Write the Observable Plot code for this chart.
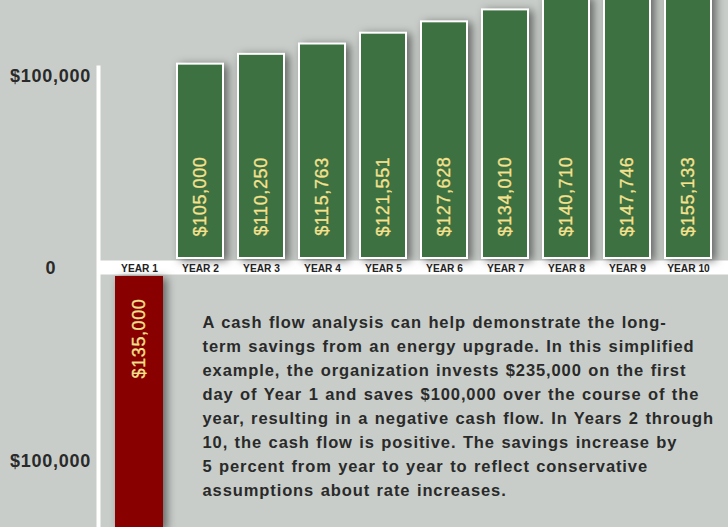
<!DOCTYPE html>
<html>
<head>
<meta charset="utf-8">
<script src="https://cdn.jsdelivr.net/npm/d3@7"></script>
<script src="https://cdn.jsdelivr.net/npm/@observablehq/plot@0.6"></script>
<style>
  html, body { margin: 0; padding: 0; background: #c8cdc9; }
  [aria-label="green bar"], [aria-label="red bar"] {
    filter: drop-shadow(4px 2px 4px rgba(0,0,0,0.5));
  }
  [aria-label="note"] { letter-spacing: 0.9px; word-spacing: 1px; }
  [aria-label="value label"] { letter-spacing: 0.6px; }
  [aria-label="tick label"] { letter-spacing: 0.75px; }
</style>
</head>
<body>
<div id="chart"></div>
<script>
const years = ["Year 1", "Year 2", "Year 3", "Year 4", "Year 5", "Year 6", "Year 7", "Year 8", "Year 9", "Year 10"];
const cashFlow = [-135000, 105000, 110250, 115763, 121551, 127628, 134010, 140710, 147746, 155133];
const yTicks = [-100000, 0, 100000];
const noteLines = [
  "A cash flow analysis can help demonstrate the long-",
  "term savings from an energy upgrade. In this simplified",
  "example, the organization invests $235,000 on the first",
  "day of Year 1 and saves $100,000 over the course of the",
  "year, resulting in a negative cash flow. In Years 2 through",
  "10, the cash flow is positive. The savings increase by",
  "5 percent from year to year to reflect conservative",
  "assumptions about rate increases."
];

const data = years.map((year, i) => ({year, value: cashFlow[i]}));
const gains = data.filter(d => d.value > 0);
const losses = data.filter(d => d.value < 0);
const money = v => "$" + d3.format(",")(Math.abs(v));
const tickFmt = v => v === 0 ? "0" : money(v);

const font = "'Liberation Sans', Arial, Helvetica, sans-serif";

const chart = Plot.plot({
  width: 728,
  height: 527,
  marginTop: 67,
  marginLeft: 98,
  marginRight: 0,
  marginBottom: 0,
  style: {background: "#c8cdc9", fontFamily: font},
  x: {type: "band", domain: years, range: [99.5, 728], padding: 0.22, axis: null},
  y: {domain: [-100000, 100000], range: [454, 80], axis: null},
  marks: [
    Plot.ruleY([0], {stroke: "white", strokeWidth: 14}),
    Plot.frame({anchor: "left", stroke: "white", strokeWidth: 4}),
    Plot.barY(losses, {x: "year", y: "value", fill: "#880000", dy: 9, ariaLabel: () => "red bar"}),
    Plot.barY(gains, {x: "year", y: "value", fill: "#3e7142", stroke: "white", strokeWidth: 2, inset: 1, dy: -8, ariaLabel: () => "green bar"}),
    Plot.text(gains, {x: "year", y: 0, text: d => money(d.value), rotate: -90, dy: -71, fill: "#f6e28e", fontSize: 18, stroke: "#f6e28e", strokeWidth: 0.3, ariaLabel: () => "value label"}),
    Plot.text(losses, {x: "year", y: 0, text: d => money(d.value), rotate: -90, dy: 71, fill: "#f6e28e", fontSize: 18, stroke: "#f6e28e", strokeWidth: 0.3, ariaLabel: () => "value label"}),
    Plot.text(years, {x: d => d, y: 0, text: d => d.toUpperCase(), fontSize: 10.2, fontWeight: "bold", fill: "#222", dy: 1}),
    Plot.text(yTicks.filter(v => v > 0), {y: d => d, text: tickFmt, frameAnchor: "left", dx: -48, dy: -4, textAnchor: "middle", fontSize: 18, fontWeight: "bold", fill: "#2a2a2a", ariaLabel: () => "tick label"}),
    Plot.text(yTicks.filter(v => v === 0), {y: d => d, text: tickFmt, frameAnchor: "left", dx: -48, dy: 1, textAnchor: "middle", fontSize: 18, fontWeight: "bold", fill: "#2a2a2a"}),
    Plot.text(yTicks.filter(v => v < 0), {y: d => d, text: tickFmt, frameAnchor: "left", dx: -48, dy: 7, textAnchor: "middle", fontSize: 18, fontWeight: "bold", fill: "#2a2a2a", ariaLabel: () => "tick label"}),
    Plot.text([noteLines.join("\n")], {frameAnchor: "top-left", dx: 104, dy: 243, lineAnchor: "top", lineHeight: 1.46, fontSize: 16.5, fontWeight: "bold", fill: "#2a2a2a", ariaLabel: () => "note"})
  ]
});
document.getElementById("chart").append(chart);
</script>
</body>
</html>
